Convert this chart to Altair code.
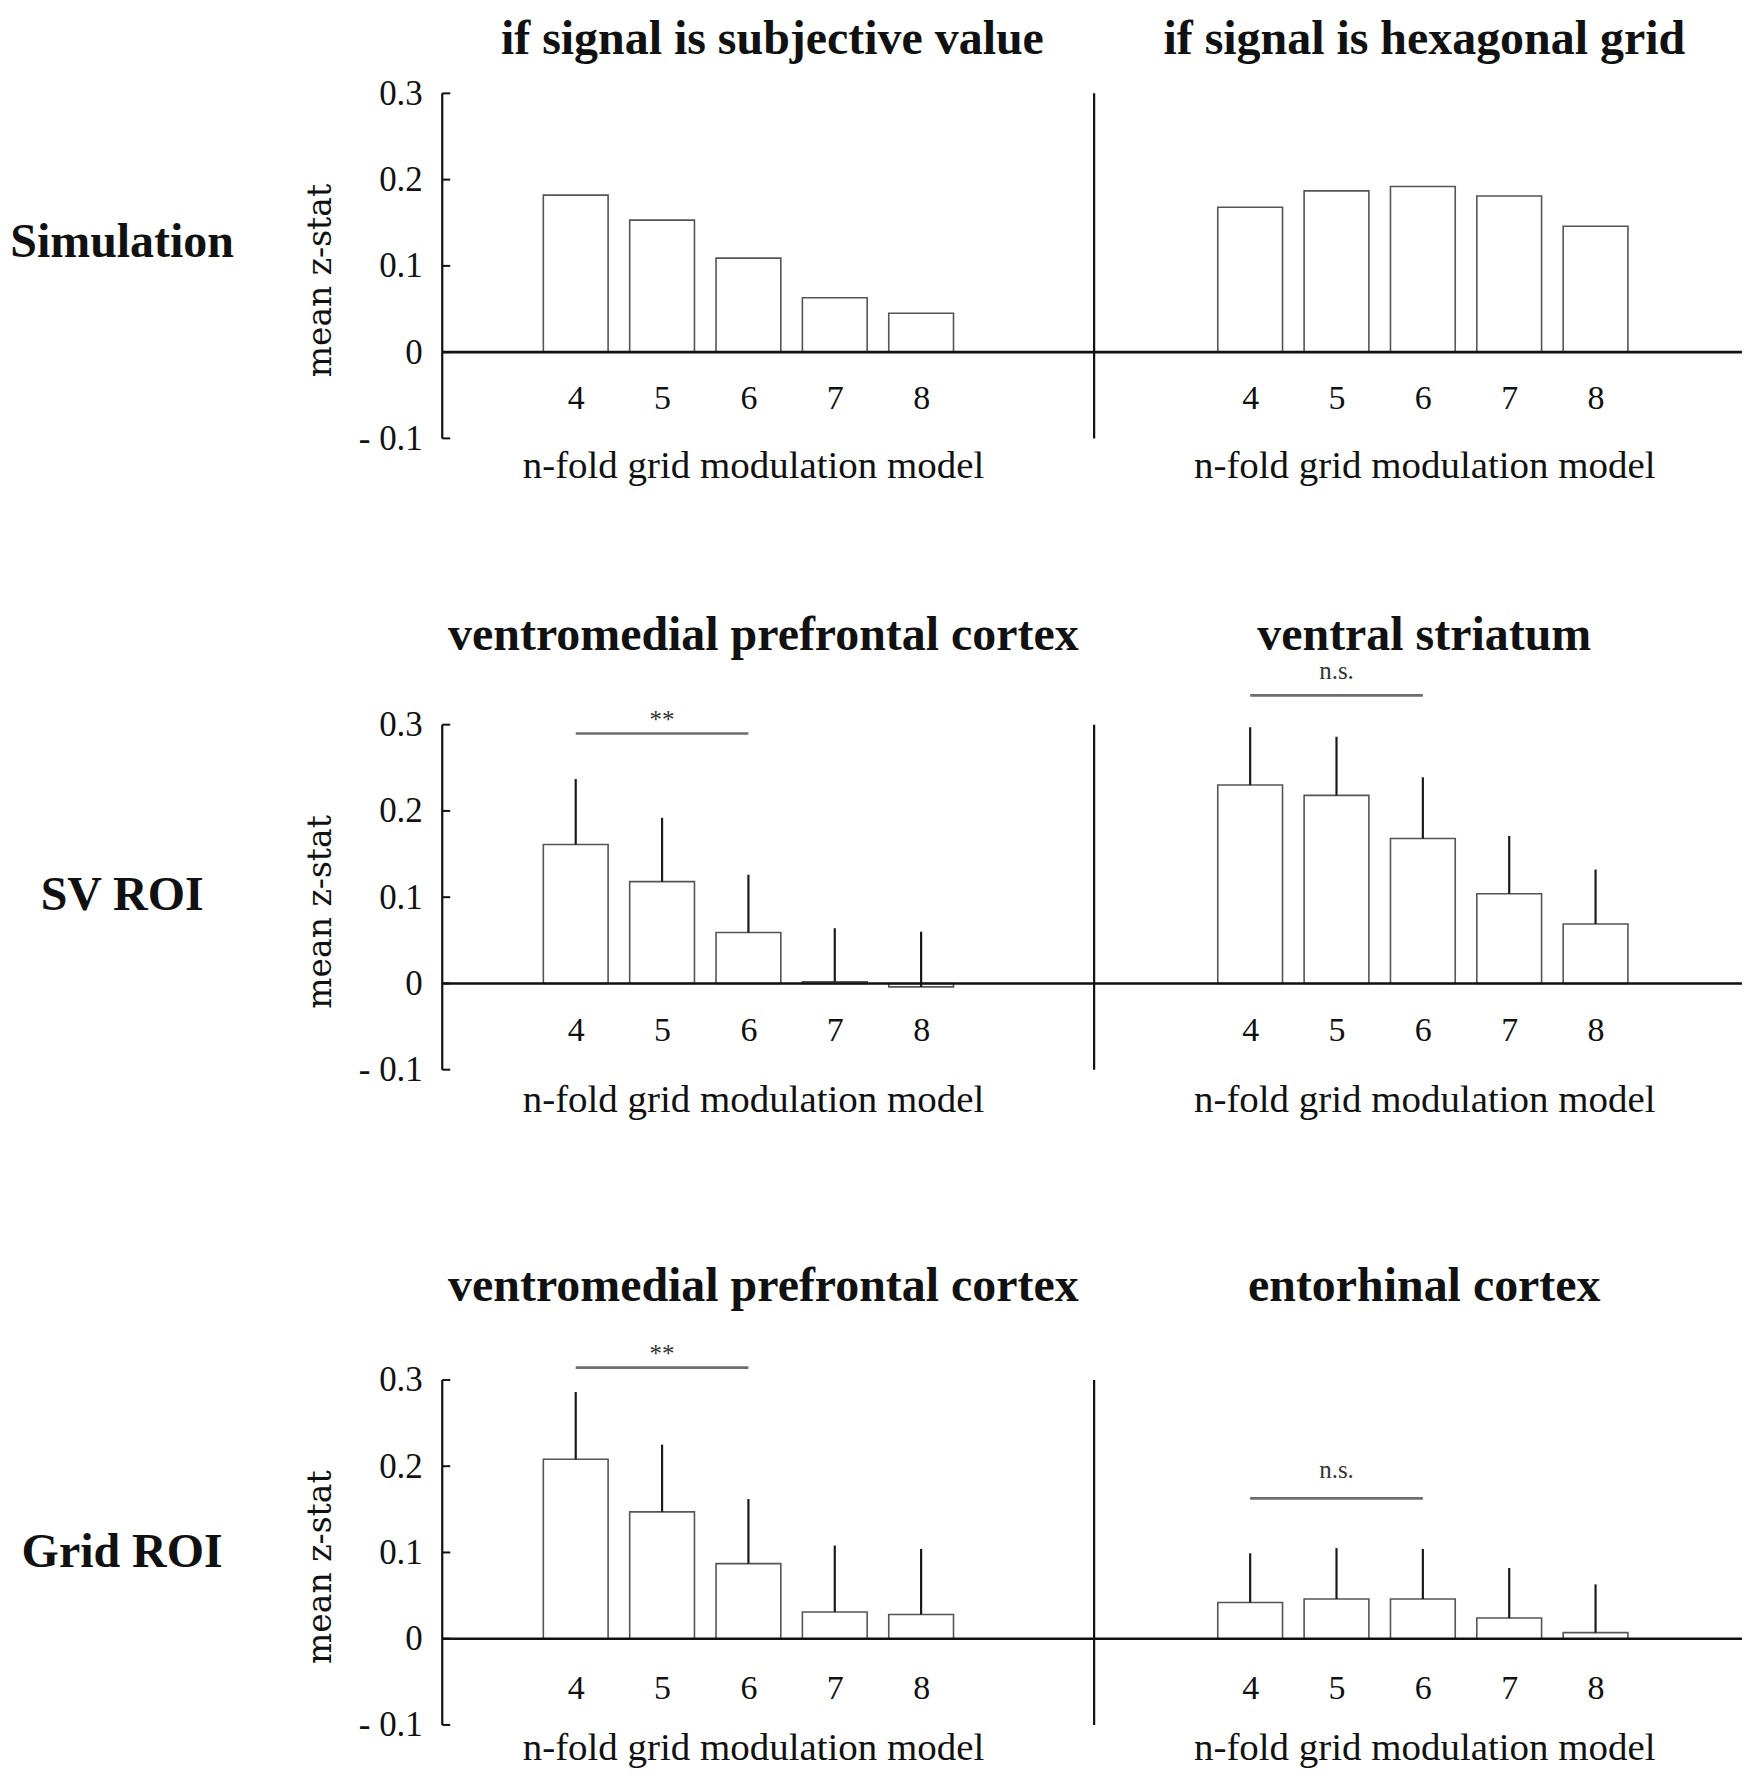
import altair as alt
import pandas as pd

# ---------------- data ----------------
folds = [4, 5, 6, 7, 8]
y_ticks = [-0.1, 0.0, 0.1, 0.2, 0.3]

row_labels = ["Simulation", "SV ROI", "Grid ROI"]
titles_left = ["if signal is subjective value",
               "ventromedial prefrontal cortex",
               "ventromedial prefrontal cortex"]
titles_right = ["if signal is hexagonal grid",
                "ventral striatum",
                "entorhinal cortex"]
x_title = "n-fold grid modulation model"
y_title = "mean z-stat"

sim_sv_mean = [0.182, 0.153, 0.109, 0.063, 0.045]
sim_grid_mean = [0.168, 0.187, 0.192, 0.181, 0.146]

svroi_vmpfc_mean = [0.161, 0.118, 0.059, 0.002, -0.004]
svroi_vmpfc_upper = [0.237, 0.192, 0.126, 0.064, 0.060]
svroi_vs_mean = [0.230, 0.218, 0.168, 0.104, 0.069]
svroi_vs_upper = [0.297, 0.286, 0.239, 0.171, 0.132]

gridroi_vmpfc_mean = [0.208, 0.147, 0.087, 0.031, 0.028]
gridroi_vmpfc_upper = [0.286, 0.225, 0.162, 0.108, 0.104]
gridroi_erc_mean = [0.042, 0.046, 0.046, 0.024, 0.007]
gridroi_erc_upper = [0.099, 0.105, 0.104, 0.082, 0.063]

# significance brackets (row, side, from fold, to fold, line value, label, label value)
sig_row = [1, 1, 2, 2]
sig_side = ["L", "R", "L", "R"]
sig_from = [4, 4, 4, 4]
sig_to = [6, 6, 6, 6]
sig_line = [0.2898, 0.334, 0.3143, 0.1627]
sig_label = ["**", "n.s.", "**", "n.s."]
sig_label_y = [0.311, 0.359, 0.336, 0.1917]

# ---------------- layout (page pixels) ----------------
SERIF = "Liberation Serif"
YT_FONT = "DejaVu Serif"
INK = "#111111"

K = 864.0                       # px per unit of z-stat
Y03 = [90.7, 722.7, 1378.3]     # page y of the 0.3 tick in each row
SPAN = 0.4 * K
ext_t = [48.0, 65.0, 70.0]
S = (Y03[1] - ext_t[1]) - (Y03[0] + SPAN)
ext_b = [0.0, (Y03[2] - ext_t[2]) - S - (Y03[1] + SPAN), 0.0]
heights = [ext_t[i] + SPAN + ext_b[i] for i in range(3)]
plot_top = [Y03[i] - ext_t[i] for i in range(3)]

LEFT_X, MID_X, RIGHT_X = 441.7, 1094.1, 1743.0
W_L, W_R = MID_X - LEFT_X, RIGHT_X - MID_X
PX = 86.5
first_center = {"L": 575.4, "R": 1250.4}

title_cx = {"L": [772.4, 763.4, 763.4], "R": [1424.8, 1424.8, 1424.8]}
title_base = [51.0, 648.0, 1299.0]
label_cx = 121.0
label_base = [255.0, 908.5, 1565.4]
xlab_above = [30.4, 29.6, 26.5]
xtitle_below = [39.5, 42.0, 35.0]
xtitle_cx = {"L": 753.0, "R": 1424.8}
ytitle_cx = 319.4
ytitle_below03 = 187.0
HALF_BAR = 0.375


def panel(row, side, mean, upper, title):
    left = side == "L"
    W = W_L if left else W_R
    H = heights[row]
    px0 = LEFT_X if left else MID_X
    x0 = 4 - (first_center[side] - px0) / PX
    xs = alt.Scale(domain=[x0, x0 + W / PX], nice=False, zero=False)
    ys = alt.Scale(domain=[-0.1 - ext_b[row] / K, 0.3 + ext_t[row] / K],
                   nice=False, zero=False)
    xaxis = alt.Axis(values=folds, format="d", title=x_title, domain=False,
                     ticks=False, grid=False, labelFont=SERIF, labelFontSize=34,
                     labelColor=INK, labelBaseline="alphabetic",
                     labelPadding=-(xlab_above[row] + ext_b[row]),
                     labelFlush=False, labelOverlap=False,
                     titleFont=SERIF, titleFontSize=39, titleFontWeight="normal",
                     titleColor=INK, titleX=xtitle_cx[side] - px0,
                     titleY=xtitle_below[row] - ext_b[row],
                     titleBaseline="alphabetic", titleAlign="center")
    if left:
        yaxis = alt.Axis(values=y_ticks, domain=False, ticks=False, grid=False,
                         labelExpr="datum.value < 0 ? '- ' + format(-datum.value, '.1f') : (datum.value == 0 ? '0' : format(datum.value, '.1f'))",
                         labelFont=SERIF, labelFontSize=35, labelColor=INK,
                         labelPadding=20, labelBaseline="middle",
                         title=y_title, titleFont=YT_FONT, titleFontSize=33,
                         titleFontWeight="normal", titleColor=INK, titleAngle=270,
                         titleX=ytitle_cx - LEFT_X, titleY=ext_t[row] + ytitle_below03,
                         titleAlign="center", titleBaseline="middle")
    else:
        yaxis = None

    def X(f):
        return alt.X(f, type="quantitative", scale=xs, axis=xaxis)

    def Y(f):
        return alt.Y(f, type="quantitative", scale=ys, axis=yaxis)

    df = pd.DataFrame({"fold": folds, "mean": mean})
    bars = alt.Chart(df).transform_calculate(
        lo=f"datum.fold - {HALF_BAR}", hi=f"datum.fold + {HALF_BAR}", base="0"
    ).mark_bar(fill="white", stroke="#555555", strokeWidth=1.6).encode(
        x=X("lo"), x2="hi:Q", y=Y("mean"), y2="base:Q")
    layers = [bars]

    if upper is not None:
        edf = pd.DataFrame({"fold": folds, "mean": mean, "upper": upper})
        err = alt.Chart(edf).mark_rule(color="#1a1a1a", strokeWidth=2.2).encode(
            x=X("fold"), y=Y("mean"), y2="upper:Q")
        layers.append(err)

    zero = alt.Chart(pd.DataFrame({"z": [0.0]})).mark_rule(
        color="#111111", strokeWidth=2.6).encode(y=Y("z"))
    layers.append(zero)

    vline = alt.Chart(pd.DataFrame({"a": [y_ticks[0]], "b": [y_ticks[-1]]})).mark_rule(
        color="#111111", strokeWidth=2.2).encode(x=alt.value(0), y=Y("a"), y2="b:Q")
    layers.append(vline)

    if left:
        ticks = alt.Chart(pd.DataFrame({"t": y_ticks})).mark_rule(
            color="#111111", strokeWidth=2).encode(
            x=alt.value(0), x2=alt.value(8), y=Y("t"))
        layers.append(ticks)

    for i in range(len(sig_row)):
        if sig_row[i] == row and sig_side[i] == side:
            sdf = pd.DataFrame({"x1": [sig_from[i]], "x2": [sig_to[i]],
                                "y": [sig_line[i]], "lab": [sig_label[i]],
                                "ly": [sig_label_y[i]]})
            line = alt.Chart(sdf).mark_rule(color="#6e6e6e", strokeWidth=2.6).encode(
                x=X("x1"), x2="x2:Q", y=Y("y"))
            star = sig_label[i] == "**"
            txt = alt.Chart(sdf).transform_calculate(
                xm="(datum.x1 + datum.x2) / 2").mark_text(
                font=SERIF, fontSize=25, color="#333333",
                baseline="alphabetic", dy=13 if star else 5).encode(
                x=X("xm"), y=Y("ly"), text="lab:N")
            layers += [line, txt]

    ttl = alt.Chart(pd.DataFrame({"t": [title]})).mark_text(
        font=SERIF, fontSize=48, fontWeight="bold", color=INK,
        align="center", baseline="alphabetic").encode(
        text="t:N", x=alt.value(title_cx[side][row] - px0),
        y=alt.value(title_base[row] - plot_top[row]))
    layers.append(ttl)

    if left:
        lab = alt.Chart(pd.DataFrame({"t": [row_labels[row]]})).mark_text(
            font=SERIF, fontSize=48, fontWeight="bold", color=INK,
            align="center", baseline="alphabetic").encode(
            text="t:N", x=alt.value(label_cx - LEFT_X),
            y=alt.value(label_base[row] - plot_top[row]))
        layers.append(lab)
        if row == 0:
            ax, ay = 8 - LEFT_X, 8 - plot_top[0]
            anchor = alt.Chart(pd.DataFrame({"a": [1]})).mark_rule(
                color="white", strokeWidth=1).encode(
                x=alt.value(ax), x2=alt.value(ax + 1),
                y=alt.value(ay), y2=alt.value(ay))
            layers.append(anchor)

    return alt.layer(*layers).properties(width=W, height=H)


panels = [
    panel(0, "L", sim_sv_mean, None, titles_left[0]),
    panel(0, "R", sim_grid_mean, None, titles_right[0]),
    panel(1, "L", svroi_vmpfc_mean, svroi_vmpfc_upper, titles_left[1]),
    panel(1, "R", svroi_vs_mean, svroi_vs_upper, titles_right[1]),
    panel(2, "L", gridroi_vmpfc_mean, gridroi_vmpfc_upper, titles_left[2]),
    panel(2, "R", gridroi_erc_mean, gridroi_erc_upper, titles_right[2]),
]

chart = alt.concat(
    *panels, columns=2,
    spacing=alt.RowColnumber(row=S, column=0),
    bounds="flush", align="each",
).properties(padding=0, background="white").configure_view(stroke=None)

chart.save("out.html", embed_options={"renderer": "svg", "actions": False})
